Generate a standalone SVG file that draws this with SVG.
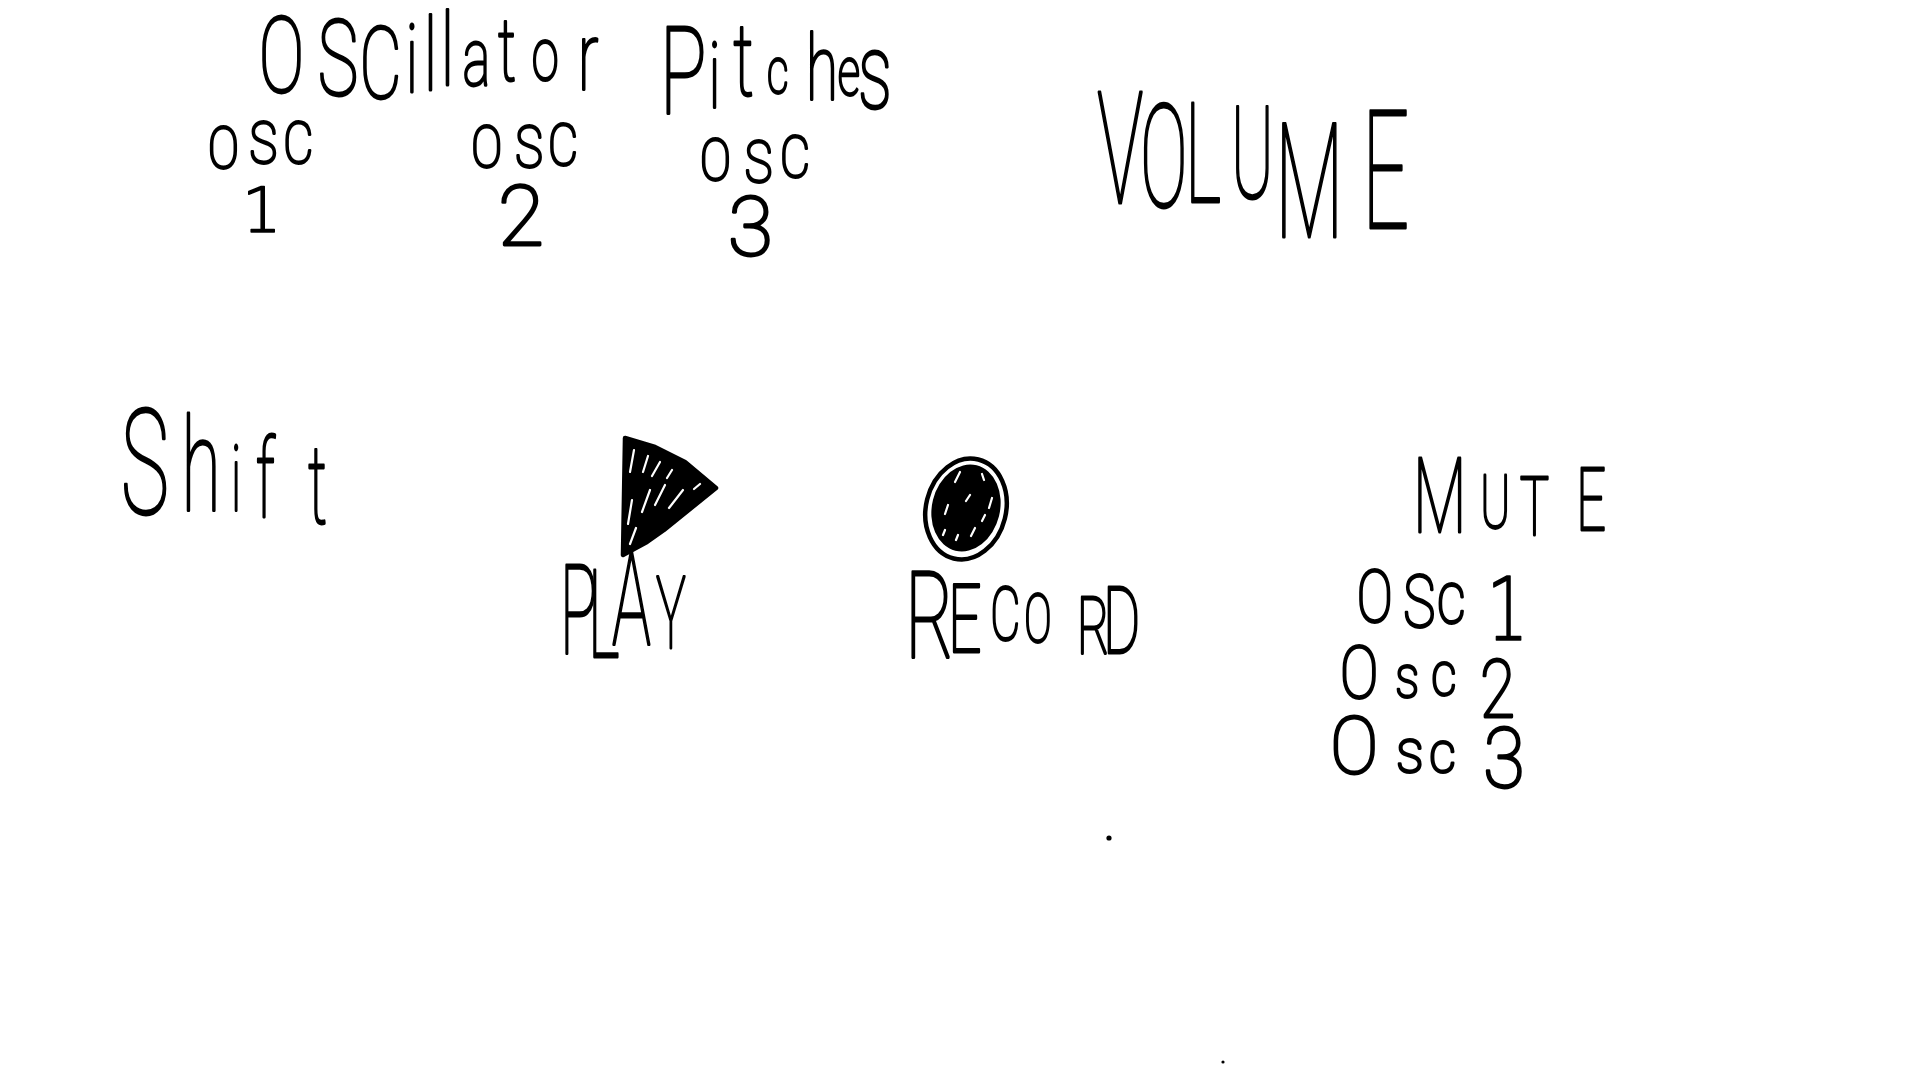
<svg xmlns="http://www.w3.org/2000/svg" width="1920" height="1080" viewBox="0 0 1920 1080">
<style>
text{font-family:Roboto,"Liberation Sans",sans-serif;font-weight:100;fill:#000;stroke:#000;stroke-width:2.9;stroke-linejoin:round;stroke-linecap:round;vector-effect:non-scaling-stroke;white-space:pre}
.foot{font-family:"DejaVu Sans ExtraLight","DejaVu Sans",sans-serif;font-weight:200;stroke-width:1.6}
.ink{fill:none;stroke:#000;stroke-width:4.5;stroke-linecap:round;stroke-linejoin:round}
.fleck{fill:none;stroke:#fff;stroke-width:2.2;stroke-linecap:round}
</style>
<rect width="1920" height="1080" fill="#fff"/>
<g id="connectors"></g>
<g id="title"><text transform="scale(.65,1)"><tspan x="398" y="92" font-size="105">O</tspan><tspan x="489" y="95" font-size="105">S</tspan><tspan x="553" y="98" font-size="100">C</tspan><tspan x="624" y="92" font-size="95">i</tspan><tspan x="652" y="90" font-size="100">l</tspan><tspan x="678" y="85" font-size="100">l</tspan><tspan x="712" y="85" font-size="80">a</tspan><tspan x="766" y="80" font-size="88">t</tspan><tspan x="818" y="80" font-size="75">o</tspan><tspan x="889" y="90" font-size="95">r</tspan><tspan x="960" y="90" font-size="90"> </tspan><tspan x="1015" y="113" font-size="120">P</tspan><tspan x="1090" y="108" font-size="90">i</tspan><tspan x="1128" y="95" font-size="100">t</tspan><tspan x="1180" y="93" font-size="65">c</tspan><tspan x="1240" y="100" font-size="90">h</tspan><tspan x="1289" y="95" font-size="68">e</tspan><tspan x="1320" y="108" font-size="105">s</tspan></text></g>
<g id="osc1-pitch"><text transform="scale(.8,1)" font-size="58"><tspan x="260" y="168">O</tspan><tspan x="312" y="163">S</tspan><tspan x="354" y="163">C</tspan></text><text class="foot" x="242" y="232" font-size="62">1</text></g>
<g id="osc2-pitch"><text transform="scale(.8,1)" font-size="58"><tspan x="589" y="167">O</tspan><tspan x="644" y="167">S</tspan><tspan x="685" y="165">C</tspan></text><text x="498" y="245" font-size="84">2</text></g>
<g id="osc3-pitch"><text transform="scale(.8,1)" font-size="58"><tspan x="875" y="180">O</tspan><tspan x="931" y="182">S</tspan><tspan x="975" y="177">C</tspan></text><text x="728" y="255" font-size="82">3</text></g>
<g id="volume"><text transform="scale(.5,1)"><tspan x="2194" y="203" font-size="155">V</tspan><tspan x="2280" y="207" font-size="143">O</tspan><tspan x="2370" y="202" font-size="140">L</tspan><tspan x="2462" y="198" font-size="128">U</tspan><tspan x="2550" y="237" font-size="160">M</tspan><tspan x="2724" y="228" font-size="166">E</tspan></text></g>
<g id="shift"><text transform="scale(.55,1)"><tspan x="220" y="514" font-size="147">S</tspan><tspan x="330" y="511" font-size="130">h</tspan><tspan x="420" y="511" font-size="90">i</tspan><tspan x="465" y="517" font-size="110">f</tspan><tspan x="560" y="523" font-size="110">t</tspan></text></g>
<g id="play">
<path d="M625 438 L655 447 L685 462 L716 488 L664 530 L647 542 L623 555 Z" fill="#000" stroke="#000" stroke-width="4.5" stroke-linejoin="round"/>
<path class="fleck" d="M634 450l-4 22M648 456l-5 16M660 462l-8 14M672 470l-5 8M700 484l-6 5M665 485l-10 20M650 490l-8 22M683 490l-14 18M632 500l-4 24M636 528l-6 16"/>
<text transform="scale(.5,1)"><tspan x="1120" y="653" font-size="124">P</tspan><tspan x="1176" y="657" font-size="122">L</tspan><tspan x="1224" y="645" font-size="130">A</tspan><tspan x="1312" y="648" font-size="100">Y</tspan></text>
</g>
<g id="record">
<ellipse class="ink" cx="966" cy="509" rx="40" ry="51" transform="rotate(14 966 509)"/>
<ellipse cx="966" cy="508" rx="34" ry="44" fill="#000" transform="rotate(14 966 508)"/>
<path class="fleck" d="M960 472l-5 10M982 474l2 6M992 498l-3 10M948 505l-3 9M975 528l-4 8M958 535l-2 5M970 495l-4 6M985 515l-3 6M945 530l-2 5"/>
<text transform="scale(.62,1)"><tspan x="1460" y="658" font-size="120">R</tspan><tspan x="1529" y="652" font-size="95">E</tspan><tspan x="1597" y="640" font-size="75">C</tspan><tspan x="1652" y="642" font-size="66">O</tspan><tspan x="1737" y="653" font-size="80">R</tspan><tspan x="1779" y="653" font-size="92">D</tspan></text>
</g>
<g id="mute"><text transform="scale(.6,1)"><tspan x="2355" y="532" font-size="104">M</tspan><tspan x="2467" y="528" font-size="75">U</tspan><tspan x="2533" y="535" font-size="82">T</tspan><tspan x="2627" y="530" font-size="87">E</tspan></text></g>
<g id="osc1-mute"><text transform="scale(.75,1)"><tspan x="1809" y="622" font-size="72">O</tspan><tspan x="1871" y="627" font-size="72">S</tspan><tspan x="1916" y="623" font-size="75">c</tspan><tspan x="1950" y="623" font-size="75"> </tspan><tspan class="foot" x="1982" y="640" font-size="88">1</tspan></text></g>
<g id="osc2-mute"><text transform="scale(.8,1)"><tspan x="1675" y="698" font-size="72">O</tspan><tspan x="1744" y="697" font-size="60">s</tspan><tspan x="1789" y="695" font-size="62">c</tspan><tspan x="1830" y="695" font-size="62"> </tspan><tspan x="1850" y="717" font-size="80">2</tspan></text></g>
<g id="osc3-mute"><text transform="scale(.9,1)"><tspan x="1478" y="773" font-size="80">O</tspan><tspan x="1551" y="772" font-size="62">s</tspan><tspan x="1588" y="772" font-size="58">c</tspan><tspan x="1625" y="772" font-size="58"> </tspan><tspan x="1648" y="787" font-size="84">3</tspan></text></g>
<circle cx="1109" cy="838" r="2.6" fill="#000"/>
<circle cx="1223" cy="1062" r="1.6" fill="#000"/>
</svg>
